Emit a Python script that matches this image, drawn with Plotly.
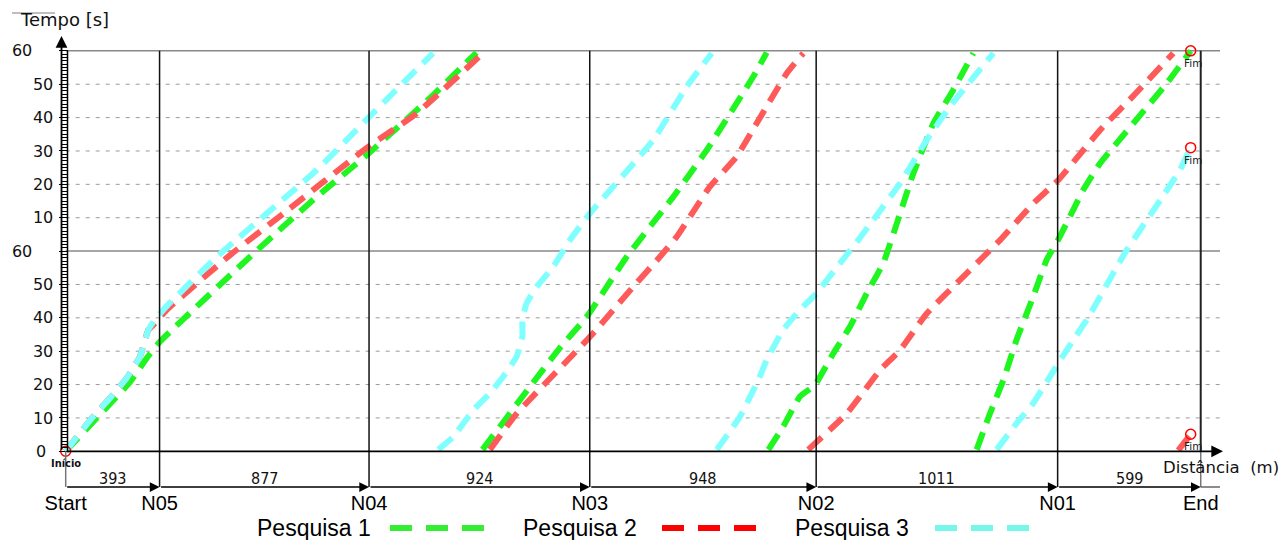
import itertools
import plotly.graph_objects as go

# ---------------- data ----------------
node_names = ["Start", "N05", "N04", "N03", "N02", "N01", "End"]
segment_lengths = [393, 877, 924, 948, 1011, 599]

# time axis: two stacked 60 s windows (0-60 lower, 60-120 upper)
tick_vals_main = [10, 20, 30, 40, 50, 70, 80, 90, 100, 110]
tick_text_main = ["10", "20", "30", "40", "50", "10", "20", "30", "40", "50"]
tick_vals_sixty = [60, 120]
tick_text_sixty = ["60", "60"]
tick_vals_zero = [0]
tick_text_zero = ["0"]
grid_dashed = [10, 20, 30, 40, 50, 70, 80, 90, 100, 110]
grid_solid = [60, 120]

survey_names = ["Pesquisa 1", "Pesquisa 2", "Pesquisa 3"]
line_colors = ["#1ff51f", "#ff5a5a", "#80ffff"]
legend_colors = ["#33ee33", "#ff0000", "#77f7e7"]

# Each survey is drawn in passes that wrap at the top of the 120 s window.
# distance along the route [m] and time inside the window [s]
p1_dist = [
    [0, 150, 269, 339, 395, 772, 1051, 1261, 1539, 1720],
    [1745, 1817, 1943, 2069, 2181, 2349, 2544, 2684, 2879, 2935],
    [2942, 3004, 3074, 3137, 3214, 3284, 3354, 3423, 3549, 3633, 3716, 3800],
    [3814, 3870, 3926, 3981, 4051, 4107, 4156, 4204, 4260, 4331, 4470, 4610, 4710],
]
p1_time = [
    [0, 11.5, 20.7, 27.9, 32.9, 58.3, 76.3, 88.8, 106.8, 119.5],
    [0.5, 7.3, 19.3, 31.0, 40.3, 58.3, 76.3, 90.3, 112.3, 119.5],
    [0.5, 7.4, 16.4, 19.9, 29.4, 37.4, 47.4, 56.4, 83.3, 98.3, 108.3, 119.3],
    [0.5, 11.4, 21.4, 33.4, 46.4, 57.4, 63.5, 70.3, 78.3, 86.3, 98.3, 110.3, 120],
]
p2_dist = [
    [0, 109, 185, 255, 311, 346, 374, 423, 688, 912, 1262, 1470, 1750],
    [1776, 1888, 2195, 2376, 2488, 2558, 2697, 2809, 2893, 3019, 3088],
    [3109, 3270, 3409, 3493, 3605, 3772, 3842, 3912, 4051, 4156, 4331, 4470, 4637],
    [4658, 4710],
]
p2_time = [
    [0, 9.9, 15.9, 21.9, 28.4, 36.4, 38.4, 42.4, 58.8, 71.3, 91.0, 101.3, 119.5],
    [0.5, 11.3, 34.3, 49.3, 58.3, 64.3, 79.3, 88.3, 98.3, 113.3, 119.3],
    [0.5, 11.3, 24.3, 30.3, 41.3, 53.3, 58.3, 63.3, 74.3, 81.3, 96.3, 106.5, 119.3],
    [0.3, 5.1],
]
p3_dist = [
    [0, 109, 185, 255, 311, 346, 374, 423, 633, 1051, 1279, 1538],
    [1560, 1623, 1707, 1776, 1832, 1888, 1912, 1912, 1930, 1972, 2041, 2111, 2195, 2460, 2600, 2705],
    [2726, 2823, 2900, 2935, 3004, 3074, 3144, 3242, 3297, 3381, 3493, 3605, 3702, 3884],
    [3898, 3981, 4051, 4121, 4156, 4219, 4275, 4331, 4386, 4442, 4583, 4665, 4710],
]
p3_time = [
    [0, 9.9, 15.9, 21.9, 28.4, 36.4, 39.5, 43.5, 58.3, 84.3, 100.8, 119.3],
    [0.5, 4.4, 12.4, 17.4, 22.4, 28.4, 34.4, 39.4, 44.4, 49.3, 55.3, 63.3, 71.3, 93.3, 109.3, 119.3],
    [0.5, 10.4, 21.4, 27.4, 36.4, 42.4, 47.4, 56.4, 61.3, 69.3, 80.3, 93.3, 103.3, 119.3],
    [0.5, 8.4, 14.4, 22.4, 26.4, 33.4, 39.4, 46.4, 53.4, 60.3, 75.3, 84.3, 91.0],
]

start_dist = [0]
start_time = [0]
end_dist = [4710, 4710, 4710]
end_time = [120, 91.0, 5.1]

# ---------------- layout helpers (pixel mapping of the page) ----------------
W, H = 1283, 540
PX0, SX = 65.7, 0.23885      # px of distance 0, px per metre
PY0, SY = 451.3, 3.337       # px of time 0, px per second


def dx(px):
    return (px - PX0) / SX


def ty(py):
    return (PY0 - py) / SY


def px_(p):
    return p / W


def py_(p):
    return 1 - p / H


node_pos = [0] + list(itertools.accumulate(segment_lengths))
x_right = dx(1220)

fig = go.Figure()

all_dist = [p1_dist, p2_dist, p3_dist]
all_time = [p1_time, p2_time, p3_time]
for name, col, dists, times in zip(survey_names, line_colors, all_dist, all_time):
    xs, ys = [], []
    for d, t in zip(dists, times):
        xs += d + [None]
        ys += t + [None]
    fig.add_trace(go.Scatter(
        x=xs, y=ys, mode="lines", name=name, showlegend=False,
        connectgaps=False,
        line=dict(color=col, width=6, dash="18px,10px", shape="spline", smoothing=0.4),
        hoverinfo="skip"))

fig.add_trace(go.Scatter(
    x=start_dist + end_dist, y=start_time + end_time, mode="markers", showlegend=False,
    marker=dict(symbol="circle-open", size=10, color="red", line=dict(width=1.5, color="red")),
    hoverinfo="skip"))

shapes = []
# horizontal grid
for t in grid_dashed:
    shapes.append(dict(type="line", xref="x", yref="y", x0=0, x1=x_right, y0=t, y1=t,
                       line=dict(color="#9a9a9a", width=1, dash="4px,6px"), layer="below"))
for t in grid_solid:
    shapes.append(dict(type="line", xref="x", yref="y", x0=0, x1=x_right, y0=t, y1=t,
                       line=dict(color="#888888", width=1.5), layer="below"))
# node vertical lines
t_low = ty(487)
for i, d in enumerate(node_pos):
    if i == 0:
        shapes.append(dict(type="line", xref="x", yref="y", x0=d, x1=d, y0=0, y1=t_low,
                           line=dict(color="#777777", width=1.5)))
    elif i == len(node_pos) - 1:
        shapes.append(dict(type="line", xref="x", yref="y", x0=d, x1=d, y0=120, y1=0,
                           line=dict(color="#222222", width=2)))
        shapes.append(dict(type="line", xref="x", yref="y", x0=d, x1=d, y0=0, y1=t_low,
                           line=dict(color="#777777", width=1.5)))
    else:
        shapes.append(dict(type="line", xref="x", yref="y", x0=d, x1=d, y0=120, y1=t_low,
                           line=dict(color="#111111", width=1.5)))
# ladder right rail of the time axis
shapes.append(dict(type="line", xref="x", yref="y", x0=dx(67.5), x1=dx(67.5), y0=0, y1=120,
                   line=dict(color="black", width=1.5)))
# grey extension of the lower line
shapes.append(dict(type="line", xref="x", yref="y", x0=node_pos[-1], x1=x_right, y0=t_low, y1=t_low,
                   line=dict(color="#666666", width=1.5)))
# small grey line above the axis title
shapes.append(dict(type="line", xref="paper", yref="paper", x0=px_(12), x1=px_(55),
                   y0=py_(13), y1=py_(13), line=dict(color="#aaaaaa", width=1.5)))
# legend samples
legend_text_x = [314, 580, 852]
legend_line_x = [(390, 490), (662, 762), (935, 1035)]
for (a, b), col in zip(legend_line_x, legend_colors):
    shapes.append(dict(type="line", xref="paper", yref="paper", x0=px_(a), x1=px_(b),
                       y0=py_(528), y1=py_(528), line=dict(color=col, width=6, dash="22px,14px")))

ann = []
# axis arrows
ann.append(dict(x=dx(61.5), y=ty(36), ax=dx(61.5), ay=0, xref="x", yref="y", axref="x", ayref="y",
                text="", showarrow=True, arrowhead=2, arrowsize=1.3, arrowwidth=1.8, arrowcolor="black"))
ann.append(dict(x=dx(1223), y=0, ax=0, ay=0, xref="x", yref="y", axref="x", ayref="y",
                text="", showarrow=True, arrowhead=2, arrowsize=1.3, arrowwidth=1.8, arrowcolor="black"))
for i in range(len(segment_lengths)):
    ann.append(dict(x=node_pos[i + 1], y=t_low, ax=node_pos[i], ay=t_low, xref="x", yref="y",
                    axref="x", ayref="y", text="", showarrow=True, arrowhead=2, arrowsize=1.3,
                    arrowwidth=1.5, arrowcolor="black"))
    ann.append(dict(x=(node_pos[i] + node_pos[i + 1]) / 2, y=ty(478), xref="x", yref="y",
                    text=str(segment_lengths[i]), showarrow=False,
                    xanchor="center", yanchor="middle",
                    font=dict(family="DejaVu Sans Condensed, DejaVu Sans", size=16, color="#111")))
ann.append(dict(x=start_dist[0], y=ty(463), xref="x", yref="y", text="<b>Início</b>", showarrow=False,
                xanchor="center", yanchor="middle",
                font=dict(family="DejaVu Sans Condensed, DejaVu Sans", size=11, color="#111")))
for d, t in zip(end_dist, end_time):
    ann.append(dict(x=d, y=t, xref="x", yref="y", text="Fim", showarrow=False, yshift=-12, xshift=2,
                    xanchor="center", yanchor="middle",
                    font=dict(family="DejaVu Sans", size=10.5, color="#222")))
ann.append(dict(x=px_(18), y=py_(20), xref="paper", yref="paper", text="Tempo [s]", showarrow=False,
                xanchor="left", yanchor="middle",
                font=dict(family="DejaVu Sans", size=18, color="#111")))
ann.append(dict(x=dx(1221), y=ty(467), xref="x", yref="y", text="Distância  (m)", showarrow=False,
                xanchor="center", yanchor="middle",
                font=dict(family="DejaVu Sans", size=16.5, color="#111")))
for name, xc in zip(survey_names, legend_text_x):
    ann.append(dict(x=px_(xc), y=py_(528), xref="paper", yref="paper", text=name, showarrow=False,
                    xanchor="center", yanchor="middle",
                    font=dict(family="Liberation Sans, Arial", size=23, color="black")))

yrange = [ty(H), ty(0)]
ypos = 67.5 / W
tickfont = dict(family="DejaVu Sans", size=16, color="#111")
common_y = dict(range=yrange, anchor="free", position=ypos, showgrid=False, zeroline=False,
                showline=False, ticks="outside", ticklen=9, tickcolor="black", tickwidth=1,
                tickfont=tickfont, fixedrange=True)

fig.update_layout(
    width=W, height=H,
    margin=dict(l=0, r=0, t=0, b=0),
    paper_bgcolor="white", plot_bgcolor="white",
    showlegend=False,
    xaxis=dict(range=[dx(0), dx(W)], anchor="free", position=py_(487), showgrid=False,
               zeroline=False, showline=False, ticks="", tickmode="array",
               tickvals=node_pos, ticktext=node_names, ticklabelstandoff=2, fixedrange=True,
               tickfont=dict(family="Liberation Sans, Arial", size=20, color="black")),
    yaxis=dict(tickmode="array", tickvals=tick_vals_main, ticktext=tick_text_main,
               ticklabelstandoff=2,
               minor=dict(tickmode="array", tickvals=list(range(0, 121)), ticks="outside",
                          ticklen=6, tickcolor="black", tickwidth=1),
               **common_y),
    yaxis2=dict(overlaying="y", tickmode="array", tickvals=tick_vals_sixty,
                ticktext=tick_text_sixty, ticklabelstandoff=23, **common_y),
    yaxis3=dict(overlaying="y", tickmode="array", tickvals=tick_vals_zero,
                ticktext=tick_text_zero, ticklabelstandoff=9, **common_y),
    shapes=shapes,
    annotations=ann,
)
# dummy traces so the overlay axes are drawn
fig.add_trace(go.Scatter(x=[None], y=[None], yaxis="y2", showlegend=False))
fig.add_trace(go.Scatter(x=[None], y=[None], yaxis="y3", showlegend=False))

fig.write_html("out.html", config={"displayModeBar": False},
               post_script="document.body.style.margin='0';document.body.style.overflow='hidden';")
